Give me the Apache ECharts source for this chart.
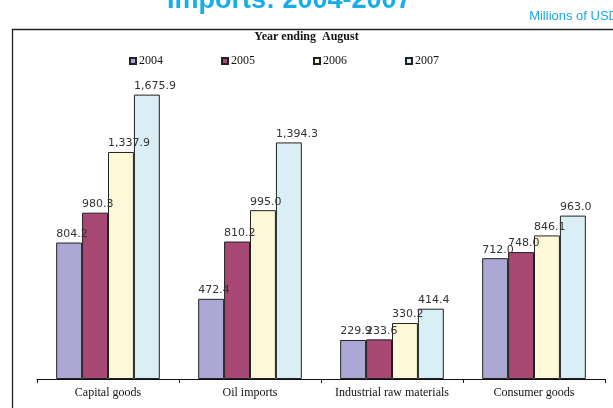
<!DOCTYPE html>
<html>
<head>
<meta charset="utf-8">
<script src="https://cdn.jsdelivr.net/npm/echarts@6/dist/echarts.min.js"></script>
<style>
html, body { margin: 0; padding: 0; background: #fff; }
#chart { width: 613px; height: 408px; }
</style>
</head>
<body>
<div id="chart"></div>
<script>
// 数据
var categories = ['Capital goods', 'Oil imports', 'Industrial raw materials', 'Consumer goods'];
var years = ['2004', '2005', '2006', '2007'];
var values2004 = [804.2, 472.4, 229.9, 712.0];
var values2005 = [980.3, 810.2, 233.6, 748.0];
var values2006 = [1337.9, 995.0, 330.2, 846.1];
var values2007 = [1675.9, 1394.3, 414.4, 963.0];
var colors = ['#aba9d4', '#a84874', '#fdf9d8', '#daeef6'];

var chart = echarts.init(document.getElementById('chart'));

function fmt(v) {
    return v.toLocaleString('en-US', { minimumFractionDigits: 1, maximumFractionDigits: 1 });
}

function makeSeries(name, data, color) {
    return {
        name: name,
        type: 'bar',
        data: data,
        barGap: '0%',
        barCategoryGap: '27%',
        itemStyle: { color: color, borderColor: '#222', borderWidth: 1 },
        label: {
            show: true,
            position: [0, -3],
            align: 'left',
            verticalAlign: 'bottom',
            fontFamily: 'DejaVu Sans',
            fontSize: 11,
            color: '#333',
            formatter: function(p) { return fmt(p.value); }
        }
    };
}

var option = {
    animation: false,
    graphic: [
        {
            type: 'text', left: 167, top: -13,
            style: { text: 'Imports: 2004-2007', font: 'bold 27px "Liberation Sans", Arial', fill: '#16ade8' }
        },
        {
            type: 'text', right: -5, top: 10,
            style: { text: 'Millions of USD', font: '13px "Liberation Sans", Arial', fill: '#1aa8e8' }
        },
        {
            type: 'rect', left: 10, top: 27,
            shape: { width: 620, height: 400 },
            style: { fill: 'none', stroke: '#222', lineWidth: 1.3 }
        },
        {
            type: 'text', left: 'center', top: 31,
            style: { text: 'Year ending  August', font: 'bold 12px "Liberation Serif", serif', fill: '#111' }
        }
    ],
    legend: {
        data: years,
        top: 50,
        left: 124,
        itemGap: 58,
        itemWidth: 6,
        itemHeight: 6,
        icon: 'rect',
        textStyle: { fontFamily: 'Liberation Serif', fontSize: 12, color: '#111', padding: [0, 0, 0, -2] }
    },
    grid: { left: 37, right: 8, top: 60, bottom: 29 },
    xAxis: {
        type: 'category',
        data: categories,
        axisLine: { lineStyle: { color: '#111', width: 1 } },
        axisTick: { show: true, length: 4, interval: 0, lineStyle: { color: '#111' } },
        axisLabel: { interval: 0, fontFamily: 'Liberation Serif', fontSize: 12, color: '#111', margin: 8 }
    },
    yAxis: {
        type: 'value',
        min: 0,
        max: 1880,
        show: false,
        splitLine: { show: false }
    },
    series: [
        makeSeries('2004', values2004, colors[0]),
        makeSeries('2005', values2005, colors[1]),
        makeSeries('2006', values2006, colors[2]),
        makeSeries('2007', values2007, colors[3])
    ]
};
chart.setOption(option);
</script>
</body>
</html>
